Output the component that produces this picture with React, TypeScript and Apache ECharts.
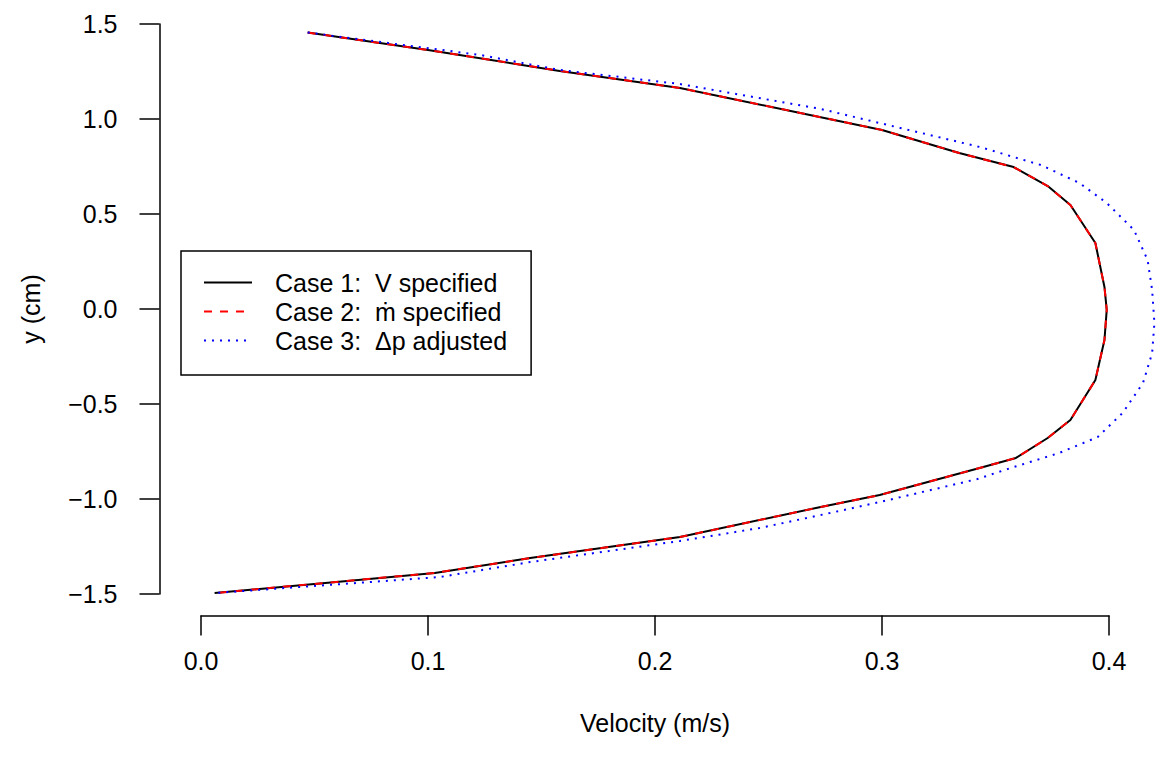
import React, { useEffect, useRef } from "react";
import * as echarts from "echarts";

// Case 1: V specified (velocity m/s, y cm)
const case1U = [0.047, 0.1, 0.158, 0.211, 0.264, 0.300, 0.334, 0.358, 0.373, 0.383, 0.394, 0.398, 0.399, 0.398, 0.394, 0.383, 0.373, 0.359, 0.343, 0.299, 0.273, 0.211, 0.145, 0.103, 0.006];
const case1Y = [1.455, 1.363, 1.253, 1.163, 1.032, 0.942, 0.821, 0.747, 0.647, 0.547, 0.347, 0.116, -0.005, -0.163, -0.374, -0.584, -0.679, -0.784, -0.837, -0.979, -1.042, -1.2, -1.311, -1.389, -1.495];
// Case 2: m-dot specified (coincides with case 1)
const case2U = [0.047, 0.1, 0.158, 0.211, 0.264, 0.300, 0.334, 0.358, 0.373, 0.383, 0.394, 0.398, 0.399, 0.398, 0.394, 0.383, 0.373, 0.359, 0.343, 0.299, 0.273, 0.211, 0.145, 0.103, 0.006];
const case2Y = [1.455, 1.363, 1.253, 1.163, 1.032, 0.942, 0.821, 0.747, 0.647, 0.547, 0.347, 0.116, -0.005, -0.163, -0.374, -0.584, -0.679, -0.784, -0.837, -0.979, -1.042, -1.2, -1.311, -1.389, -1.495];
// Case 3: delta p adjusted
const case3U = [0.047, 0.123, 0.158, 0.211, 0.273, 0.308, 0.343, 0.358, 0.370, 0.387, 0.399, 0.411, 0.417, 0.419, 0.420, 0.419, 0.415, 0.406, 0.395, 0.378, 0.358, 0.342, 0.299, 0.277, 0.246, 0.211, 0.145, 0.105, 0.006];
const case3Y = [1.455, 1.337, 1.258, 1.184, 1.053, 0.953, 0.853, 0.8, 0.758, 0.663, 0.558, 0.416, 0.258, 0.1, -0.074, -0.232, -0.389, -0.547, -0.674, -0.758, -0.832, -0.895, -1.016, -1.074, -1.153, -1.221, -1.332, -1.411, -1.495];

const seriesNames = ["Case 1:  V specified", "Case 2:  \u1E41 specified", "Case 3:  \u0394p adjusted"];
const xLabel = "Velocity (m/s)";
const yLabel = "y (cm)";
const xTicks = { min: 0, max: 0.4, step: 0.1 };
const yTicks = { min: -1.5, max: 1.5, step: 0.5 };

const FONT = "'Liberation Sans', Arial, Helvetica, sans-serif";

const fmt = (v: number) => (v < 0 ? "\u2212" : "") + Math.abs(v).toFixed(1);
const zip = (u: number[], y: number[]) => u.map((x, i) => [x, y[i]]);

export default function App() {
  const ref = useRef<HTMLDivElement>(null);
  useEffect(() => {
    if (!ref.current) return;
    const chart = echarts.init(ref.current, null, { renderer: "svg" });
    const styles = [
      { color: "#000000", type: "solid" as any, width: 2 },
      { color: "#ff0000", type: [8, 8] as any, width: 2 },
      { color: "#0000ff", type: [2, 6] as any, width: 2 },
    ];
    const datasets = [zip(case1U, case1Y), zip(case2U, case2Y), zip(case3U, case3Y)];
    const pxPerX = 908 / (xTicks.max - xTicks.min);
    const dataXMax = 0.42;
    const axisCommon = {
      splitLine: { show: false },
      axisLine: { show: true, onZero: false, lineStyle: { color: "#000", width: 1.5 } },
      axisTick: { show: true, length: 20, lineStyle: { color: "#000", width: 1.5 } },
    };
    chart.setOption({
      animation: false,
      backgroundColor: "#ffffff",
      textStyle: { fontFamily: FONT },
      grid: [
        { left: 201, top: 24, height: 570, width: (dataXMax - xTicks.min) * pxPerX, containLabel: false },
        { left: 201, top: 24, height: 570, width: 908, containLabel: false },
      ],
      legend: {
        orient: "vertical",
        left: 181,
        top: 251,
        borderColor: "#000",
        borderWidth: 1.5,
        borderRadius: 0,
        padding: [19, 24, 22, 22],
        itemWidth: 48,
        itemHeight: 25,
        itemGap: 4,
        textStyle: { fontSize: 25, lineHeight: 25, color: "#000", fontFamily: FONT, padding: [0, 0, 0, 18] },
        data: seriesNames.map((n, i) => ({ name: n, lineStyle: styles[i], itemStyle: { opacity: 0 } })),
      },
      xAxis: [
        { type: "value", gridIndex: 0, min: xTicks.min, max: dataXMax, show: false },
        {
          type: "value",
          gridIndex: 1,
          min: xTicks.min,
          max: xTicks.max,
          interval: xTicks.step,
          offset: 21.5,
          ...axisCommon,
          axisLabel: { color: "#000", fontSize: 25, margin: 33, formatter: fmt, fontFamily: FONT },
          name: xLabel,
          nameLocation: "middle",
          nameGap: 95,
          nameTextStyle: { color: "#000", fontSize: 25, fontFamily: FONT },
        },
      ],
      yAxis: [
        { type: "value", gridIndex: 0, min: yTicks.min, max: yTicks.max, show: false },
        {
          type: "value",
          gridIndex: 1,
          min: yTicks.min,
          max: yTicks.max,
          interval: yTicks.step,
          offset: 41.5,
          ...axisCommon,
          axisLabel: { color: "#000", fontSize: 25, margin: 42, formatter: fmt, fontFamily: FONT },
          name: yLabel,
          nameLocation: "middle",
          nameGap: 116,
          nameRotate: 90,
          nameTextStyle: { color: "#000", fontSize: 25, fontFamily: FONT },
        },
      ],
      series: datasets.map((d, i) => ({
        name: seriesNames[i],
        type: "line",
        xAxisIndex: 0,
        yAxisIndex: 0,
        data: d,
        symbol: "none",
        clip: false,
        smooth: false,
        lineStyle: styles[i],
        itemStyle: { color: styles[i].color },
        z: 2 + i,
      })),
    });
    return () => chart.dispose();
  }, []);
  return (
    <div
      ref={ref}
      style={{ position: "absolute", left: 0, top: 0, width: 1157, height: 771, background: "#fff" }}
    />
  );
}
